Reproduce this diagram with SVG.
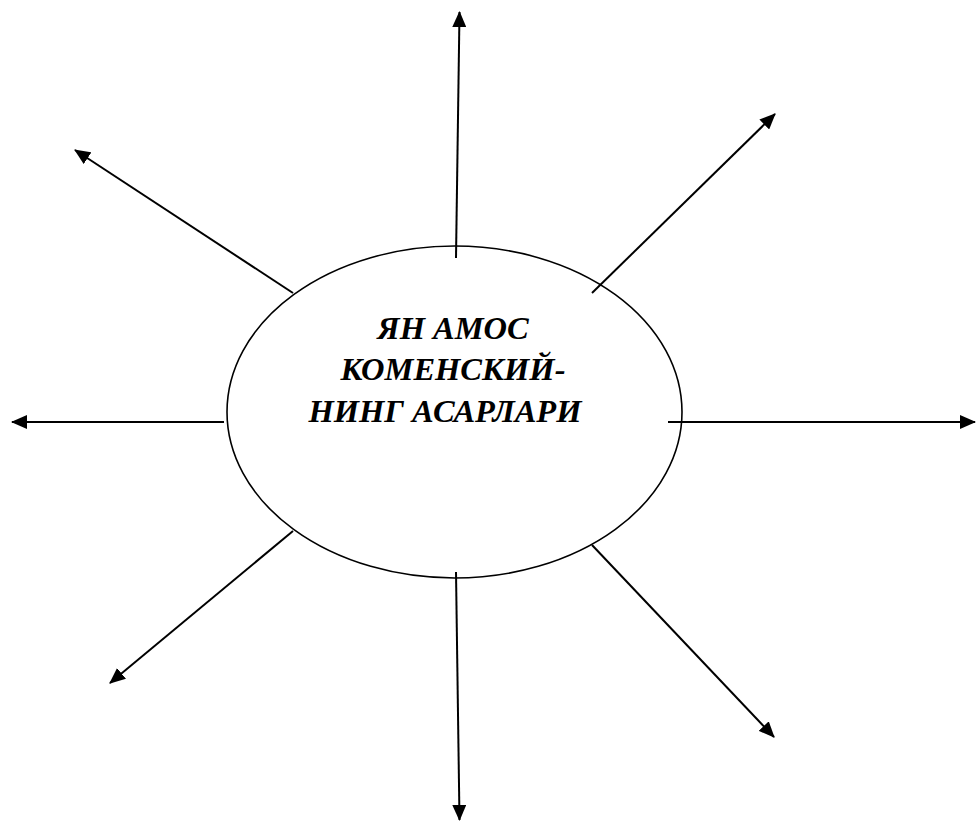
<svg xmlns="http://www.w3.org/2000/svg" width="976" height="824" viewBox="0 0 976 824">
<style>
.c{stroke:#000;stroke-width:2;fill:none;marker-end:url(#ah)}
.t{font-family:"Liberation Serif",serif;font-weight:bold;font-style:italic;font-size:32.5px;fill:#000}
</style>
<defs>
<marker id="ah" markerUnits="userSpaceOnUse" markerWidth="16" markerHeight="14" refX="15" refY="7" orient="auto">
<path d="M0,0 L16,7 L0,14 z" fill="#000"/>
</marker>
</defs>
<rect width="976" height="824" fill="#fff"/>
<g id="center">
<ellipse cx="454.5" cy="412" rx="227.5" ry="166" fill="#fff" stroke="#000" stroke-width="1.6"/>
<text class="t" x="453" y="339" text-anchor="middle">ЯН АМОС</text>
<text class="t" x="453" y="380" text-anchor="middle">КОМЕНСКИЙ-</text>
<text class="t" x="445" y="422" text-anchor="middle">НИНГ АСАРЛАРИ</text>
</g>
<g id="connectors">
<line class="c" x1="456" y1="258" x2="459.5" y2="12"/>
<line class="c" x1="224" y1="422" x2="12" y2="422"/>
<line class="c" x1="668" y1="422" x2="975" y2="422"/>
<line class="c" x1="293" y1="293" x2="75" y2="150"/>
<line class="c" x1="592" y1="293" x2="775" y2="114"/>
<line class="c" x1="293" y1="531" x2="110" y2="683"/>
<line class="c" x1="592" y1="545" x2="774" y2="737"/>
<line class="c" x1="456" y1="572" x2="459.5" y2="820"/>
</g>
</svg>
